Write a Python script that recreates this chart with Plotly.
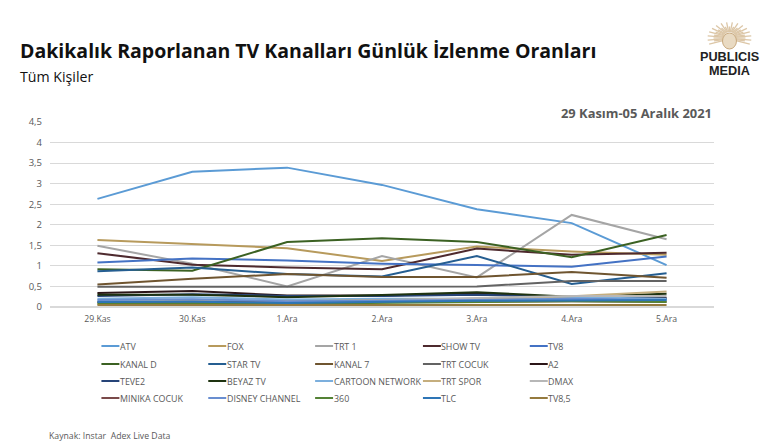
import math
import plotly.graph_objects as go

days = ["29.Kas", "30.Kas", "1.Ara", "2.Ara", "3.Ara", "4.Ara", "5.Ara"]
names = ["ATV", "FOX", "TRT 1", "SHOW TV", "TV8", "KANAL D", "STAR TV", "KANAL 7", "TRT COCUK", "A2",
         "TEVE2", "BEYAZ TV", "CARTOON NETWORK", "TRT SPOR", "DMAX", "MINIKA COCUK", "DISNEY CHANNEL",
         "360", "TLC", "TV8,5"]
colors = ["#5B9BD5", "#B79A5C", "#A5A5A5", "#4E2A2E", "#4472C4", "#3B6122", "#255E91", "#6F5530", "#636363", "#2B1518",
          "#264478", "#1E3310", "#7CAFDD", "#C5AE7E", "#B7B7B7", "#7A4A4A", "#698ED0", "#548235", "#2E75B6", "#957A3E"]
atv = [2.63, 3.29, 3.39, 2.97, 2.38, 2.04, 1.02]
fox = [1.63, 1.53, 1.43, 1.12, 1.47, 1.35, 1.27]
trt1 = [1.49, 1.05, 0.50, 1.24, 0.72, 2.24, 1.65]
show = [1.31, 1.03, 0.96, 0.92, 1.42, 1.27, 1.32]
tv8 = [1.08, 1.18, 1.13, 1.05, 1.02, 0.98, 1.23]
kanald = [0.92, 0.88, 1.58, 1.67, 1.58, 1.21, 1.75]
star = [0.87, 0.96, 0.80, 0.74, 1.24, 0.56, 0.82]
kanal7 = [0.55, 0.69, 0.80, 0.73, 0.73, 0.85, 0.71]
trtcocuk = [0.49, 0.49, 0.49, 0.50, 0.50, 0.63, 0.63]
a2 = [0.34, 0.39, 0.28, 0.28, 0.33, 0.22, 0.22]
teve2 = [0.27, 0.31, 0.27, 0.27, 0.30, 0.24, 0.20]
beyaz = [0.30, 0.30, 0.24, 0.29, 0.36, 0.25, 0.32]
cartoon = [0.20, 0.24, 0.18, 0.20, 0.20, 0.24, 0.20]
trtspor = [0.12, 0.16, 0.14, 0.17, 0.20, 0.26, 0.38]
dmax = [0.14, 0.14, 0.12, 0.16, 0.22, 0.27, 0.27]
minika = [0.11, 0.13, 0.11, 0.12, 0.14, 0.14, 0.13]
disney = [0.17, 0.19, 0.14, 0.15, 0.17, 0.20, 0.17]
s360 = [0.08, 0.09, 0.08, 0.10, 0.12, 0.14, 0.12]
tlc = [0.12, 0.13, 0.10, 0.13, 0.15, 0.16, 0.17]
tv85 = [0.05, 0.05, 0.05, 0.05, 0.04, 0.05, 0.05]
series = [atv, fox, trt1, show, tv8, kanald, star, kanal7, trtcocuk, a2, teve2, beyaz, cartoon, trtspor, dmax,
          minika, disney, s360, tlc, tv85]

W, H = 769, 444
L, R, T, B = 49.5, 714.5, 122, 307
FONT = "Open Sans"
fig = go.Figure()
for n, c, v in zip(names, colors, series):
    fig.add_trace(go.Scatter(x=days, y=v, name=n, mode="lines", line=dict(color=c, width=2), showlegend=False))

def px(x): return (x - L) / (R - L)
def py(y): return (B - y) / (B - T)

ann = []
shapes = []
def text(x, y, t, size, color, bold=False, anchor="left", family=FONT):
    ann.append(dict(xref="paper", yref="paper", x=px(x), y=py(y), text=f"<b>{t}</b>" if bold else t, showarrow=False,
                    xanchor=anchor, yanchor="middle", font=dict(size=size, color=color, family=family),
                    borderpad=0))

text(18, 50, "Dakikalık Raporlanan TV Kanalları Günlük İzlenme Oranları", 19.5, "#111111", True)
text(18, 76, "Tüm Kişiler", 14.2, "#111111")
text(713, 113, "29 Kasım-05 Aralık 2021", 12.9, "#595959", True, "right")
text(47, 436, "Kaynak: Instar  Adex Live Data", 8.7, "#595959")
text(730, 57, "PUBLICIS", 12.7, "#222222", True, "center", "Liberation Sans")
text(730, 71, "MEDIA", 12.7, "#222222", True, "center", "Liberation Sans")

# legend
col_x = [101, 208, 315, 423, 530]
row_y = [346, 364, 381, 398]
for i, (n, c) in enumerate(zip(names, colors)):
    x0 = col_x[i % 5]
    y0 = row_y[i // 5]
    shapes.append(dict(type="line", xref="paper", yref="paper", x0=px(x0), x1=px(x0 + 18), y0=py(y0), y1=py(y0),
                       line=dict(color=c, width=2)))
    text(x0 + 17.5, y0, n, 8.9, "#595959")

# logo sun rays
cx, cy = 730, 38
for k in range(-3, 28):
    a = math.pi * k / 24
    r = 16 + (k % 2) * 6
    shapes.append(dict(type="line", xref="paper", yref="paper", x0=px(cx + 6 * math.cos(a)), y0=py(cy - 6 * math.sin(a)),
                       x1=px(cx + r * math.cos(a)), y1=py(cy - r * math.sin(a) * 0.72),
                       line=dict(color="#DCC6A6", width=1.3)))
shapes.append(dict(type="circle", xref="paper", yref="paper", x0=px(cx - 7), x1=px(cx + 7), y0=py(cy + 11), y1=py(cy - 5),
                   fillcolor="#E9DAC2", line=dict(color="#C8A97E", width=1)))

fig.update_layout(
    width=W, height=H, autosize=False, paper_bgcolor="white", plot_bgcolor="white", showlegend=False,
    margin=dict(l=L, r=W - R, t=T, b=H - B),
    font=dict(family=FONT, size=9, color="#595959"),
    xaxis=dict(type="category", range=[-0.5, 6.5], showgrid=False, ticks="", showline=False, zeroline=False,
               tickfont=dict(size=8.7, color="#595959"), automargin=False, ticklabelstandoff=5),
    yaxis=dict(range=[0, 4.5], tickvals=[0, 0.5, 1, 1.5, 2, 2.5, 3, 3.5, 4, 4.5],
               ticktext=["0", "0,5", "1", "1,5", "2", "2,5", "3", "3,5", "4", "4,5"],
               gridcolor="#D9D9D9", gridwidth=1, zeroline=True, zerolinecolor="#D9D9D9", showline=False, ticks="",
               tickfont=dict(size=9.5, color="#595959"), automargin=False, ticklabelstandoff=7),
    annotations=ann, shapes=shapes,
)
fig.write_html("out.html", config=dict(displayModeBar=False), post_script="document.body.style.margin='0';")
